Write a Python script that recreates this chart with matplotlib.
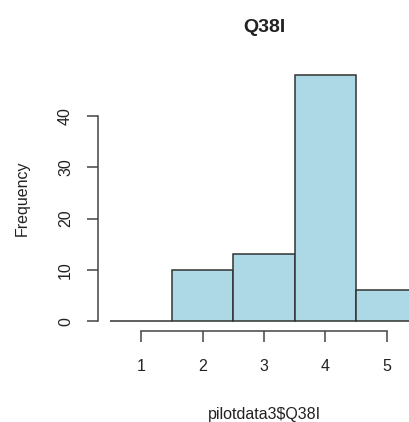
import matplotlib.pyplot as plt

plt.rcParams['font.family'] = ['Liberation Sans', 'DejaVu Sans']

# histogram bins and counts
bin_edges = [0.5, 1.5, 2.5, 3.5, 4.5, 5.5]
counts = [0, 10, 13, 48, 6]
x_ticks = [1, 2, 3, 4, 5]
y_ticks = [0, 10, 20, 30, 40]

fig = plt.figure(figsize=(4.10, 4.22), dpi=100)
# axes run past the right edge, like the cropped original
ax = fig.add_axes([98 / 410, 1 - 331 / 422, 332 / 410, 266 / 422])

lefts = bin_edges[:-1]
widths = [b - a for a, b in zip(bin_edges[:-1], bin_edges[1:])]
ax.bar(lefts, counts, width=widths, align='edge',
       color='#ADD8E6', edgecolor='#333333', linewidth=1.1)

ax.set_xlim(0.3, 5.7)
ax.set_ylim(-1.92, 49.92)

for s in ['top', 'right']:
    ax.spines[s].set_visible(False)
ax.spines['left'].set_bounds(0, 40)
ax.spines['bottom'].set_bounds(1, 5)
for s in ['left', 'bottom']:
    ax.spines[s].set_color('#444444')
    ax.spines[s].set_linewidth(1.1)

ax.set_xticks(x_ticks)
ax.set_yticks(y_ticks)
ax.tick_params(axis='both', direction='out', length=8, width=1.1,
               color='#444444', labelsize=11.5, labelcolor='#222222')
ax.tick_params(axis='x', pad=12)
ax.tick_params(axis='y', pad=10)
for lbl in ax.get_yticklabels():
    lbl.set_rotation(90)
    lbl.set_va('center')

ax.set_title('Q38I', fontsize=14, fontweight='bold', color='#222222', pad=24)
ax.set_xlabel('pilotdata3$Q38I', fontsize=11.5, color='#222222', labelpad=24)
ax.set_ylabel('Frequency', fontsize=11.5, color='#222222', labelpad=20)

fig.savefig('out.png', dpi=100)
